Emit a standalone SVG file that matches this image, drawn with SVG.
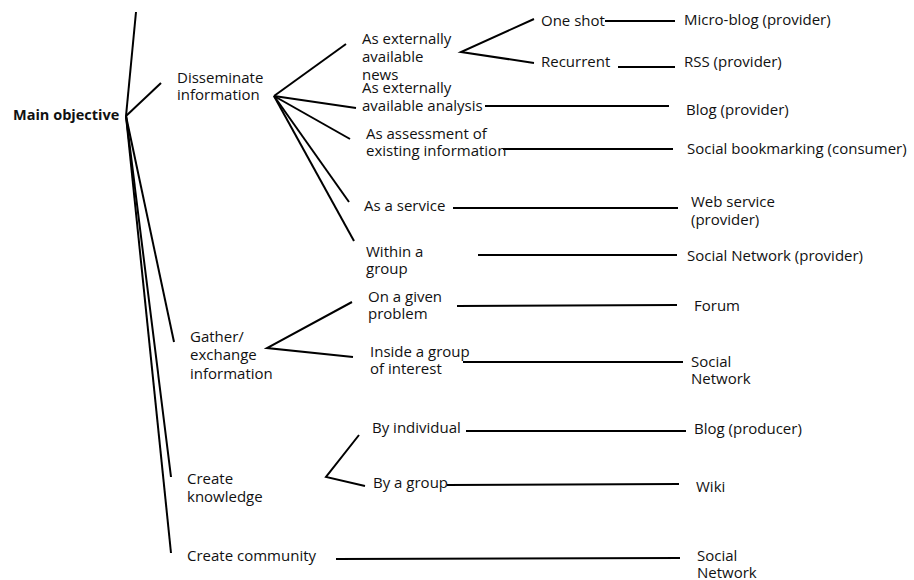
<svg xmlns="http://www.w3.org/2000/svg" width="914" height="580" viewBox="0 0 914 580">
<style>
text{font-family:"Open Sans","Liberation Sans",sans-serif;font-size:15px;fill:#111}
.b{font-weight:bold;font-size:14.5px}
#connectors line,#connectors polyline{stroke:#000;stroke-width:2;fill:none;stroke-linecap:butt}
</style>
<rect width="914" height="580" fill="#fff"/>
<g id="connectors">
<line x1="126" y1="116" x2="136" y2="12"/>
<line x1="126" y1="116" x2="161" y2="83"/>
<line x1="126" y1="116" x2="174" y2="342"/>
<line x1="126" y1="116" x2="171" y2="477"/>
<line x1="126" y1="116" x2="171" y2="553"/>
<line x1="274" y1="96" x2="346" y2="44"/>
<line x1="274" y1="96" x2="356" y2="108"/>
<line x1="274" y1="96" x2="350" y2="139"/>
<line x1="274" y1="96" x2="349" y2="202"/>
<line x1="274" y1="96" x2="354" y2="241"/>
<polyline points="534,19 461,52 534,63"/>
<line x1="605" y1="21" x2="675" y2="21"/>
<line x1="618" y1="67" x2="675" y2="67"/>
<line x1="485" y1="106" x2="669" y2="106"/>
<line x1="503" y1="149" x2="673" y2="149"/>
<line x1="453" y1="208" x2="678" y2="208"/>
<line x1="478" y1="255" x2="677" y2="255"/>
<polyline points="352,302 267,348 353,357"/>
<line x1="457" y1="306" x2="677" y2="305"/>
<line x1="463" y1="362" x2="683" y2="362"/>
<polyline points="359,435 326,477 365,486"/>
<line x1="466" y1="431" x2="686" y2="431"/>
<line x1="447" y1="485" x2="679" y2="484"/>
<line x1="336" y1="559" x2="680" y2="558"/>
</g>
<g id="main"><text class="b" x="13" y="120">Main objective</text></g>
<g id="disseminate"><text x="177" y="83">Disseminate</text><text x="177" y="100">information</text></g>
<g id="news"><text x="362" y="44">As externally</text><text x="362" y="62">available</text><text x="362" y="80">news</text></g>
<g id="analysis"><text x="362" y="93">As externally</text><text x="362" y="111">available analysis</text></g>
<g id="assessment"><text x="366" y="139">As assessment of</text><text x="366" y="156">existing information</text></g>
<g id="service"><text x="364" y="211">As a service</text></g>
<g id="withingroup"><text x="366" y="257">Within a</text><text x="366" y="274">group</text></g>
<g id="oneshot"><text x="541" y="26">One shot</text></g>
<g id="recurrent"><text x="541" y="67">Recurrent</text></g>
<g id="microblog"><text x="684" y="25">Micro-blog (provider)</text></g>
<g id="rss"><text x="684" y="67">RSS (provider)</text></g>
<g id="blogprov"><text x="686" y="115">Blog (provider)</text></g>
<g id="bookmark"><text x="687" y="154">Social bookmarking (consumer)</text></g>
<g id="webservice"><text x="691" y="207">Web service</text><text x="691" y="225">(provider)</text></g>
<g id="snprov"><text x="687" y="261">Social Network (provider)</text></g>
<g id="gather"><text x="190" y="342">Gather/</text><text x="190" y="360">exchange</text><text x="190" y="379">information</text></g>
<g id="problem"><text x="368" y="302">On a given</text><text x="368" y="319">problem</text></g>
<g id="interest"><text x="370" y="357">Inside a group</text><text x="370" y="374">of interest</text></g>
<g id="forum"><text x="694" y="311">Forum</text></g>
<g id="sn1"><text x="691" y="367">Social</text><text x="691" y="384">Network</text></g>
<g id="knowledge"><text x="187" y="484">Create</text><text x="187" y="502">knowledge</text></g>
<g id="individual"><text x="372" y="433">By individual</text></g>
<g id="bygroup"><text x="373" y="488">By a group</text></g>
<g id="blogprod"><text x="694" y="434">Blog (producer)</text></g>
<g id="wiki"><text x="696" y="492">Wiki</text></g>
<g id="community"><text x="187" y="561">Create community</text></g>
<g id="sn2"><text x="697" y="561">Social</text><text x="697" y="578">Network</text></g>
</svg>
